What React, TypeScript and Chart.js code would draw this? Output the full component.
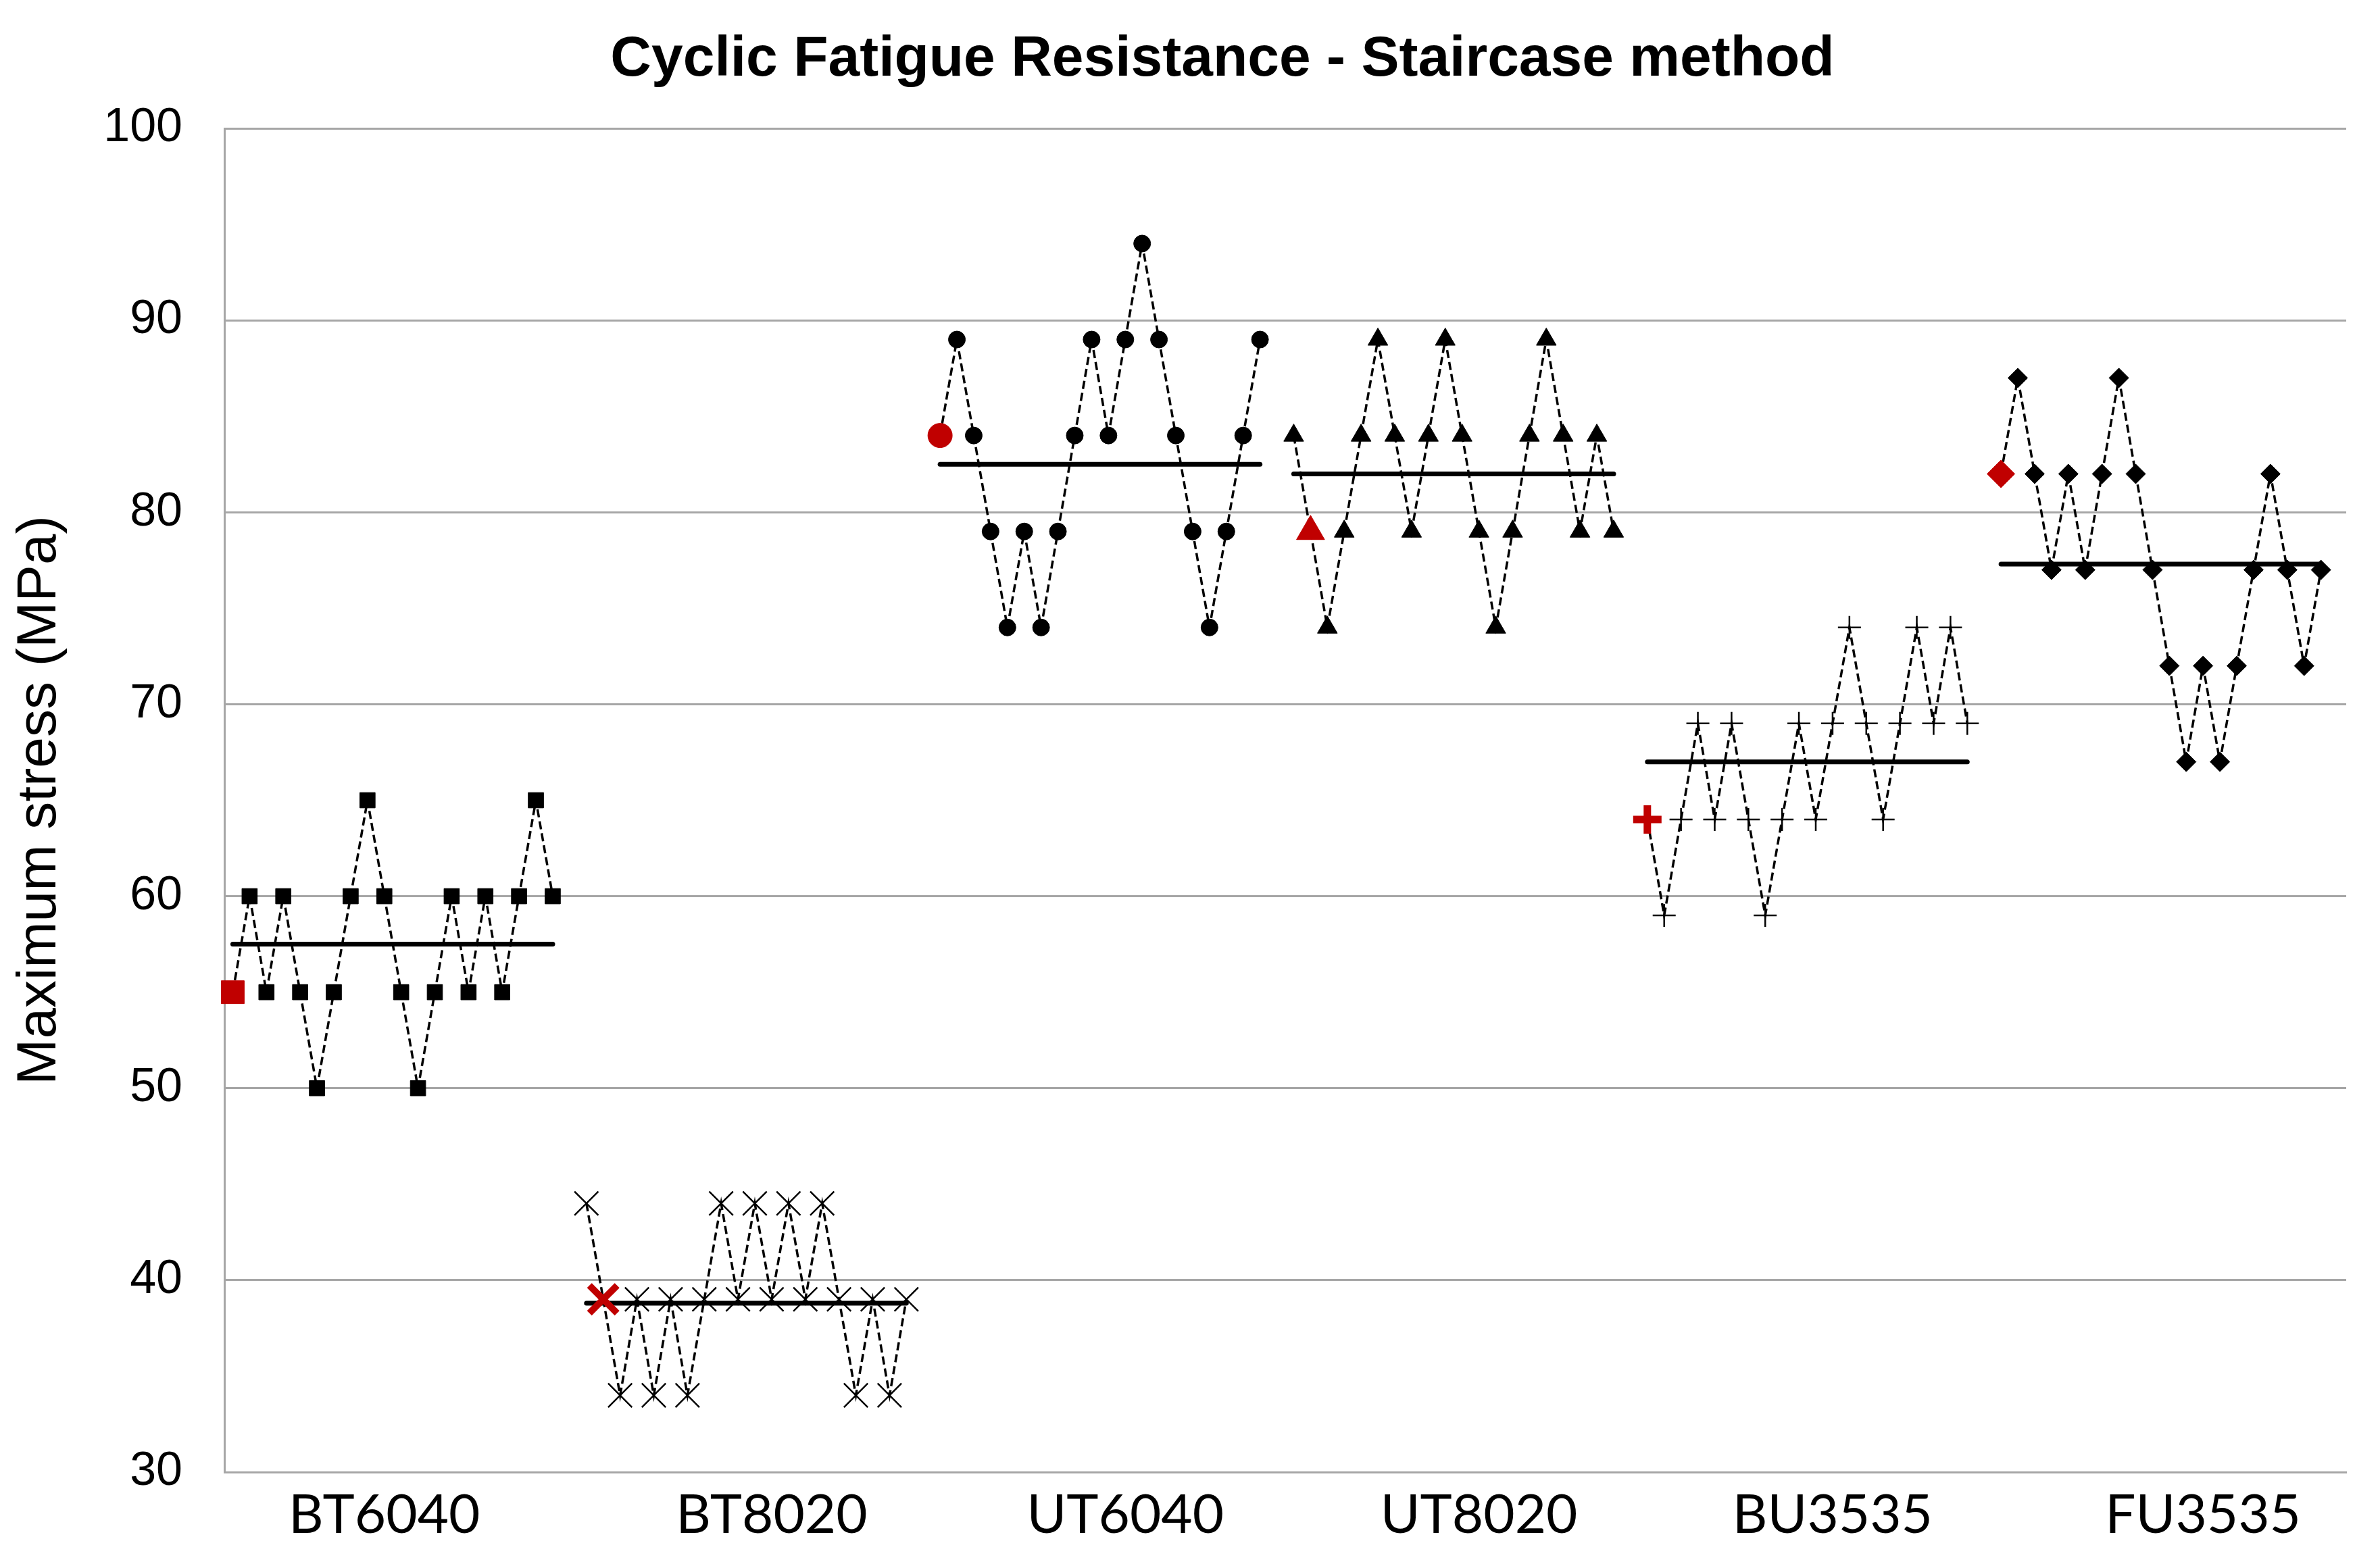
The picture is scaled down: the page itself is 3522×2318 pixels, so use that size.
import { useEffect, useRef } from 'react';
import { Chart, registerables } from 'chart.js';

Chart.register(...registerables);

// ---------- data ----------
const TITLE = 'Cyclic Fatigue Resistance - Staircase method';
const Y_TITLE = 'Maximum stress (MPa)';
const groups = ['BT6040', 'BT8020', 'UT6040', 'UT8020', 'BU3535', 'FU3535'];

const bt6040 = [55, 60, 55, 60, 55, 50, 55, 60, 65, 60, 55, 50, 55, 60, 55, 60, 55, 60, 65, 60];
const bt8020 = [44, 39, 34, 39, 34, 39, 34, 39, 44, 39, 44, 39, 44, 39, 44, 39, 34, 39, 34, 39];
const ut6040 = [84, 89, 84, 79, 74, 79, 74, 79, 84, 89, 84, 89, 94, 89, 84, 79, 74, 79, 84, 89];
const ut8020 = [84, 79, 74, 79, 84, 89, 84, 79, 84, 89, 84, 79, 74, 79, 84, 89, 84, 79, 84, 79];
const bu3535 = [64, 59, 64, 69, 64, 69, 64, 59, 64, 69, 64, 69, 74, 69, 64, 69, 74, 69, 74, 69];
const fu3535 = [82, 87, 82, 77, 82, 77, 82, 87, 82, 77, 72, 67, 72, 67, 72, 77, 82, 77, 72, 77];

// mean stress line of each group (as drawn)
const meanStress = [57.5, 38.8, 82.5, 82.0, 67.0, 77.3];
// specimen highlighted in red within each group
const firstSpecimen = [0, 1, 0, 1, 0, 0];
// category slot where each group begins / where its name is written
const groupStart = [0, 21, 42, 63, 84, 105];
const labelSlot = [9, 32, 53, 74, 95, 117];
const slotCount = 126;
const yTicks = [30, 40, 50, 60, 70, 80, 90, 100];

const series = [bt6040, bt8020, ut6040, ut8020, bu3535, fu3535];

// ---------- styles ----------
const markerStyle = [
  { pointStyle: 'rect', r: 16, bw: 1, rr: 24, rbw: 1 },
  { pointStyle: 'crossRot', r: 25, bw: 2.5, rr: 29, rbw: 10 },
  { pointStyle: 'circle', r: 12.5, bw: 1, rr: 18, rbw: 1 },
  { pointStyle: 'triangle', r: 17, bw: 1, rr: 24, rbw: 1 },
  { pointStyle: 'cross', r: 17, bw: 2.5, rr: 21, rbw: 11 },
  { pointStyle: 'rectRot', r: 14.5, bw: 1, rr: 20.5, rbw: 1 },
];
const RED = '#c00000';
const GRID = '#a6a6a6';

function place(values: (number | null)[], start: number) {
  const arr: (number | null)[] = new Array(slotCount).fill(null);
  values.forEach((v, i) => {
    arr[start + i] = v;
  });
  return arr;
}

function buildDatasets() {
  const ds: any[] = [];
  series.forEach((vals, g) => {
    const st = markerStyle[g];
    const start = groupStart[g];
    const redIdx = start + firstSpecimen[g];
    // staircase
    ds.push({
      label: groups[g],
      data: place(vals, start),
      borderColor: '#000',
      borderWidth: 3.5,
      borderDash: [12, 6],
      tension: 0,
      fill: false,
      pointStyle: st.pointStyle,
      pointRadius: (c: any) => (c.dataIndex === redIdx ? 0 : st.r),
      pointHoverRadius: (c: any) => (c.dataIndex === redIdx ? 0 : st.r),
      pointBackgroundColor: '#000',
      pointBorderColor: '#000',
      pointBorderWidth: st.bw,
      order: 1,
    });
    // mean line
    const meanVals: (number | null)[] = new Array(vals.length).fill(null);
    meanVals[0] = meanStress[g];
    meanVals[vals.length - 1] = meanStress[g];
    ds.push({
      label: groups[g] + ' mean',
      data: place(meanVals, start),
      borderColor: '#000',
      borderWidth: 7,
      borderCapStyle: 'round',
      spanGaps: true,
      pointRadius: 0,
      pointHoverRadius: 0,
      fill: false,
      order: 0,
    });
    // first specimen (red)
    const redVals: (number | null)[] = new Array(vals.length).fill(null);
    redVals[firstSpecimen[g]] = vals[firstSpecimen[g]];
    ds.push({
      label: groups[g] + ' first',
      data: place(redVals, start),
      showLine: false,
      pointStyle: st.pointStyle,
      pointRadius: st.rr,
      pointHoverRadius: st.rr,
      pointBackgroundColor: RED,
      pointBorderColor: RED,
      pointBorderWidth: st.rbw,
      order: -1,
    });
  });
  return ds;
}

export default function App() {
  const ref = useRef<HTMLCanvasElement>(null);

  useEffect(() => {
    if (!ref.current) return;
    const labels: string[] = Array.from({ length: slotCount }, () => '');
    labelSlot.forEach((s, g) => {
      labels[s] = groups[g];
    });

    const chart = new Chart(ref.current, {
      type: 'line',
      data: { labels, datasets: buildDatasets() },
      options: {
        responsive: true,
        maintainAspectRatio: false,
        animation: false,
        devicePixelRatio: 1,
        layout: { padding: { left: 146, right: 50, top: 0, bottom: 0 } },
        plugins: {
          legend: { display: false },
          tooltip: { enabled: false },
          title: {
            display: true,
            text: TITLE,
            color: '#000',
            font: { family: 'Liberation Sans, Arial, sans-serif', size: 84, weight: 'bold' },
            padding: { top: 38, bottom: 51.2 },
          },
        },
        scales: {
          x: {
            type: 'category',
            offset: true,
            grid: { display: false, drawTicks: false },
            border: { display: true, color: GRID, width: 3 },
            ticks: {
              autoSkip: false,
              maxRotation: 0,
              minRotation: 0,
              padding: 16,
              color: '#000',
              font: { family: 'Lato, sans-serif', size: 80 },
            },
            afterFit: (s: any) => {
              s.height = 139;
            },
          },
          y: {
            min: yTicks[0],
            max: yTicks[yTicks.length - 1],
            ticks: {
              stepSize: yTicks[1] - yTicks[0],
              padding: 62,
              color: '#000',
              font: { family: 'Liberation Sans, Arial, sans-serif', size: 70 },
            },
            grid: { color: GRID, lineWidth: 3, drawTicks: false },
            border: { display: true, color: GRID, width: 3 },
            title: {
              display: true,
              text: Y_TITLE,
              color: '#000',
              font: { family: 'Liberation Sans, Arial, sans-serif', size: 82 },
              padding: { top: -136, bottom: 0 },
            },
            afterFit: (s: any) => {
              s.width = 186;
            },
          },
        },
      } as any,
    });
    return () => chart.destroy();
  }, []);

  return (
    <div
      style={{
        position: 'fixed',
        left: 0,
        top: 0,
        width: '100vw',
        height: '100vh',
        background: '#fff',
      }}
    >
      <canvas ref={ref} />
    </div>
  );
}
